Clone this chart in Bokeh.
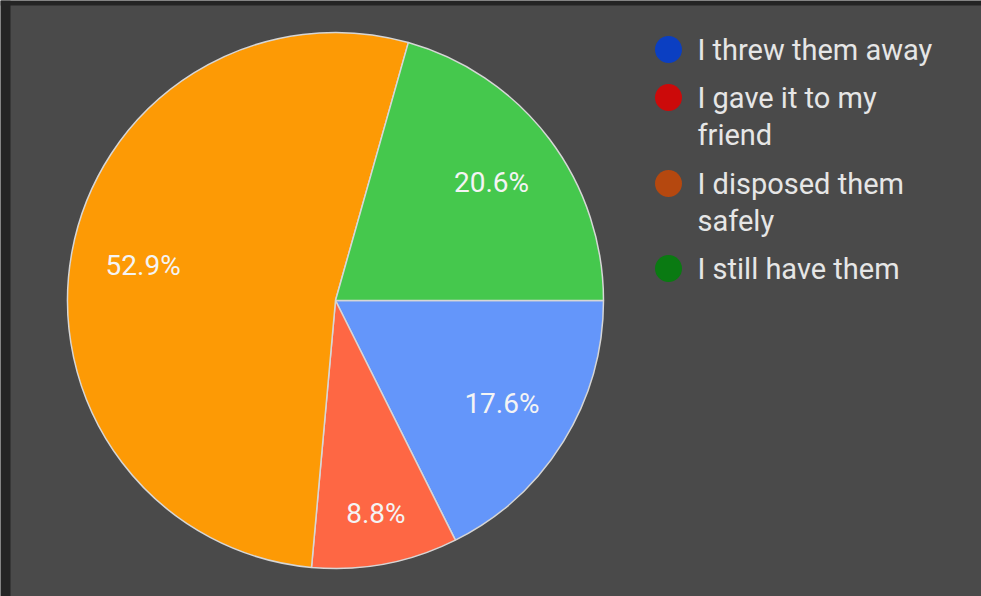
import math
from bokeh.plotting import figure
from bokeh.models import Range1d, ColumnDataSource
from bokeh.embed import file_html
from bokeh.resources import INLINE
from bokeh.core.properties import value

# ---- data ----
categories = ["I threw them away", "I gave it to my friend",
              "I disposed them safely", "I still have them"]
legend_lines = [["I threw them away"], ["I gave it to my", "friend"],
                ["I disposed them", "safely"], ["I still have them"]]
percentages = [17.6, 8.8, 52.9, 20.6]
slice_colors = ["#6496fa", "#fe6744", "#fd9a05", "#45c84d"]
legend_colors = ["#0b3fc2", "#cc0a0a", "#b5480f", "#0a7a12"]

# ---- layout constants ----
W, H = 981, 596
BG = "#4a4a4a"
CX, CY_TOP, R = 335, 300, 268
FONT = "Roboto"


def fy(y_ref):
    """convert a top-down pixel offset to the figure's y coordinate"""
    return H - y_ref


CY = fy(CY_TOP)

p = figure(width=W, height=H, x_range=Range1d(0, W), y_range=Range1d(0, H),
           output_backend="svg", toolbar_location=None, min_border=0)
p.axis.visible = False
p.grid.visible = False
p.outline_line_color = None
p.background_fill_color = BG
p.border_fill_color = BG

# dark frame on top / left edges
p.quad(left=0, right=10, bottom=0, top=H, fill_color="#242424", line_color=None)
p.quad(left=0, right=W, bottom=fy(5), top=H, fill_color="#242424", line_color=None)

total = sum(percentages)
starts, ends, lx, ly = [], [], [], []
cum = 0.0
for v in percentages:
    a0 = 2 * math.pi * cum / total
    a1 = 2 * math.pi * (cum + v) / total
    # clockwise from 3 o'clock
    starts.append(-a1)
    ends.append(-a0)
    mid = -(a0 + a1) / 2
    frac = 0.81 if v / total < 0.1 else 0.73
    lx.append(CX + R * frac * math.cos(mid))
    ly.append(CY + R * frac * math.sin(mid))
    cum += v

src = ColumnDataSource(dict(start=starts, end=ends, color=slice_colors,
                            lx=lx, ly=ly,
                            label=[f"{v}%" for v in percentages],
                            cat=categories))

p.wedge(x=CX, y=CY, radius=R, start_angle="start", end_angle="end",
        direction="anticlock", fill_color="color", line_color="#d6d6d6",
        line_width=1.5, source=src)

p.text(x="lx", y="ly", text="label", source=src, text_font=value(FONT),
       text_font_size="28px", text_color="#f4f4f4", text_align="center",
       text_baseline="middle")

# ---- legend ----
lg_x_marker, lg_x_text = 668, 697
item_tops = [49, 97, 183, 268]
line_gap = 37
mx, my, tx, ty, tt = [], [], [], [], []
for i, lines in enumerate(legend_lines):
    mx.append(lg_x_marker)
    my.append(fy(item_tops[i]))
    for j, ln in enumerate(lines):
        tx.append(lg_x_text)
        ty.append(fy(item_tops[i] + j * line_gap))
        tt.append(ln)

p.scatter(x=mx, y=my, size=27, marker="circle", fill_color=legend_colors,
          line_color=None)
p.text(x=tx, y=ty, text=tt, text_font=value(FONT), text_font_size="29px",
       text_color="#e6e6e6", text_align="left", text_baseline="middle")

open("out.html", "w").write(file_html(p, INLINE))
